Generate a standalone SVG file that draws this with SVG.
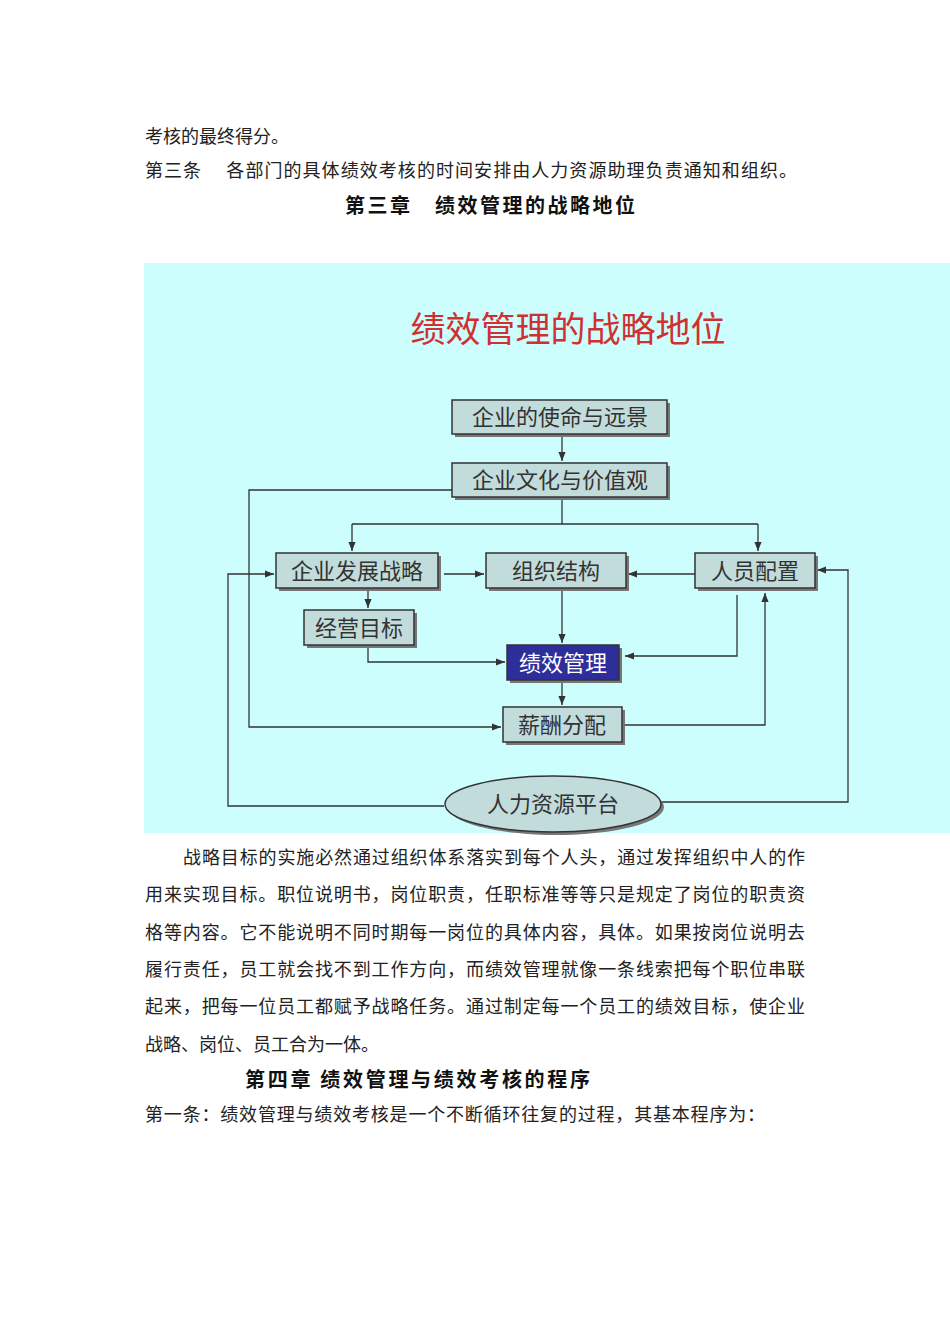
<svg xmlns="http://www.w3.org/2000/svg" width="950" height="1344" viewBox="0 0 950 1344">
<style>
.t{font-family:"Noto Sans CJK SC",sans-serif;font-size:18px;fill:#222}
.h{font-family:"Noto Sans CJK SC",sans-serif;font-size:20px;fill:#111;font-weight:bold}
.b{fill:#c2dcdc;stroke:#333;stroke-width:1.5}
.s{fill:#777}
.l{font-family:"Noto Sans CJK SC",sans-serif;font-size:22px;fill:#333;text-anchor:middle}
.c{fill:none;stroke:#333;stroke-width:1.3;marker-end:url(#a)}
</style>
<defs><marker id="a" viewBox="0 0 10 10" refX="10" refY="5" markerWidth="7" markerHeight="7" orient="auto"><path d="M0,1 L10,5 L0,9z" fill="#333"/></marker></defs>
<rect width="950" height="1344" fill="#fff"/>
<text class="t" x="145" y="143">考核的最终得分。</text>
<text class="t" x="145" y="177" textLength="652">第三条　 各部门的具体绩效考核的时间安排由人力资源助理负责通知和组织。</text>
<text class="h" x="345" y="213" textLength="290">第三章　绩效管理的战略地位</text>
<rect x="144" y="263" width="806" height="570" fill="#ccfefe"/>
<text x="568" y="342" font-family="Noto Sans CJK SC,sans-serif" font-size="35" fill="#d03030" text-anchor="middle">绩效管理的战略地位</text>
<g id="connectors">
<path class="c" d="M562,434 V461"/>
<path class="c" d="M562,497 V524 M352,524 H758 M352,524 V551"/>
<path class="c" d="M758,524 V551"/>
<path class="c" d="M452,490 H249 V727 H501"/>
<path class="c" d="M444,806 H228 V574 H274"/>
<path class="c" d="M662,802 H848 V570 H817"/>
<path class="c" d="M622,725 H765 V593"/>
<path class="c" d="M737,595 V656 H625"/>
<path class="c" d="M368,645 V662 H505"/>
<path class="c" d="M562,588 V643"/>
<path class="c" d="M562,680 V705"/>
<path class="c" d="M368,588 V608"/>
<path class="c" d="M444,574 H484"/>
<path class="c" d="M695,574 H628"/>
</g>
<g id="n1"><rect class="s" x="455" y="403" width="215" height="34"/><rect class="b" x="452" y="400" width="215" height="34"/><text class="l" x="560" y="425">企业的使命与远景</text></g>
<g id="n2"><rect class="s" x="455" y="466" width="215" height="34"/><rect class="b" x="452" y="463" width="215" height="34"/><text class="l" x="560" y="488">企业文化与价值观</text></g>
<g id="n3"><rect class="s" x="279" y="556" width="162" height="35"/><rect class="b" x="276" y="553" width="162" height="35"/><text class="l" x="357" y="579">企业发展战略</text></g>
<g id="n4"><rect class="s" x="489" y="556" width="140" height="35"/><rect class="b" x="486" y="553" width="140" height="35"/><text class="l" x="556" y="579">组织结构</text></g>
<g id="n5"><rect class="s" x="698" y="556" width="120" height="35"/><rect class="b" x="695" y="553" width="120" height="35"/><text class="l" x="755" y="579">人员配置</text></g>
<g id="n6"><rect class="s" x="307" y="613" width="110" height="35"/><rect class="b" x="304" y="610" width="110" height="35"/><text class="l" x="359" y="636">经营目标</text></g>
<g id="n7"><rect class="s" x="510" y="648" width="112" height="35"/><rect x="507" y="645" width="112" height="35" fill="#2e2e9a" stroke="#333" stroke-width="1.5"/><text class="l" x="563" y="671" style="fill:#fff">绩效管理</text></g>
<g id="n8"><rect class="s" x="506" y="710" width="119" height="35"/><rect class="b" x="503" y="707" width="119" height="35"/><text class="l" x="562" y="733">薪酬分配</text></g>
<g id="n9"><ellipse cx="556" cy="807" rx="108" ry="28" fill="#777"/><ellipse cx="553" cy="804" rx="108" ry="28" fill="#c2dcdc" stroke="#333" stroke-width="1.5"/><text class="l" x="553" y="812">人力资源平台</text></g>
<text class="t" x="183" y="864" textLength="622">战略目标的实施必然通过组织体系落实到每个人头，通过发挥组织中人的作</text>
<text class="t" x="145" y="901" textLength="660">用来实现目标。职位说明书，岗位职责，任职标准等等只是规定了岗位的职责资</text>
<text class="t" x="145" y="939" textLength="660">格等内容。它不能说明不同时期每一岗位的具体内容，具体。如果按岗位说明去</text>
<text class="t" x="145" y="976" textLength="660">履行责任，员工就会找不到工作方向，而绩效管理就像一条线索把每个职位串联</text>
<text class="t" x="145" y="1013" textLength="660">起来，把每一位员工都赋予战略任务。通过制定每一个员工的绩效目标，使企业</text>
<text class="t" x="145" y="1051">战略、岗位、员工合为一体。</text>
<text class="h" x="245" y="1087" textLength="345">第四章  绩效管理与绩效考核的程序</text>
<text class="t" x="145" y="1121" textLength="620">第一条：绩效管理与绩效考核是一个不断循环往复的过程，其基本程序为：</text>
</svg>
